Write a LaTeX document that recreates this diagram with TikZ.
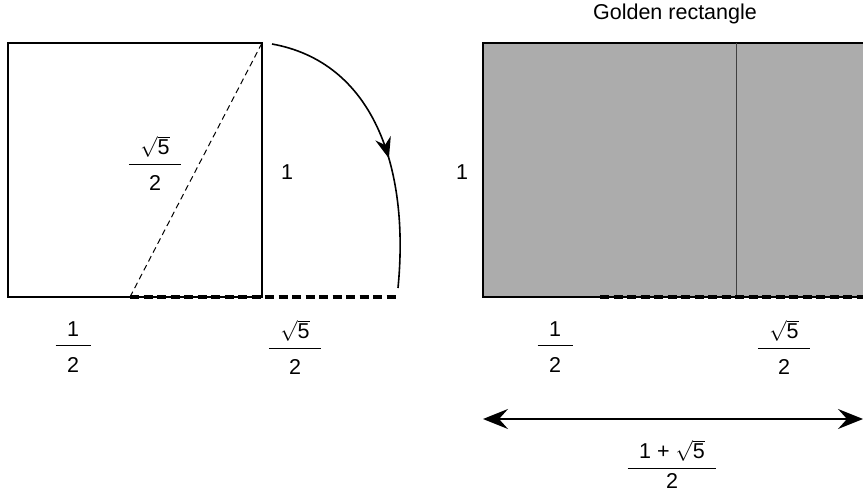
\documentclass[tikz,border=0pt]{standalone}
\usepackage{fontspec}
\setmainfont{Liberation Sans}
\usetikzlibrary{arrows.meta,decorations.markings}
\definecolor{goldgray}{RGB}{172,172,172}
\newcommand{\myfrac}[3][25pt]{$\displaystyle\frac{\mkern10mu #2\mkern10mu}{\vrule height #1 width 0pt\mbox{#3}}$}
\newcommand{\rtfive}{\sqrt{\mbox{5}}}
\tikzset{
  lbl/.style={font=\fontsize{21.5}{26}\selectfont, inner sep=0pt},
  edge/.style={line width=2.2pt},
  thickdash/.style={line width=4pt, dash pattern=on 9pt off 4.5pt},
  thindash/.style={line width=1pt, dash pattern=on 6pt off 4pt},
  arctip/.style={postaction={decorate}, decoration={markings,
     mark=at position 0.57 with {\arrow{Stealth[length=21pt,width=16pt,inset=7pt]}}}},
  dbl/.style={line width=1.8pt, {Stealth[length=25pt,width=20pt,inset=9pt]}-{Stealth[length=25pt,width=20pt,inset=9pt]}}
}
\begin{document}
\begin{tikzpicture}[x=1pt,y=-1pt]
\useasboundingbox (0,0) rectangle (863,492);
% left square
\coordinate (sqTL) at (8,43);
\coordinate (sqTR) at (262,43);
\coordinate (sqBR) at (262,297);
\coordinate (sqBL) at (8,297);
\coordinate (mid) at (130,297);
\coordinate (arcS) at (272,44);
\coordinate (arcE) at (398,288);
\coordinate (dashE) at (400,297);
\draw[edge] (sqTL) -- (sqTR) -- (sqBR) -- (sqBL) -- cycle;
\draw[thindash] (mid) -- (sqTR);
\draw[thickdash] (mid) -- (dashE);
\draw[line width=1.6pt, arctip] (arcS) .. controls (372,62) and (410,165) .. (arcE);
\node[lbl] (diag) at (155,163) {\myfrac{\rtfive}{2}};
\node[lbl] (one1) at (287,172) {1};
\node[lbl] (half1) at (73,347) {\myfrac{\mbox{1}}{2}};
\node[lbl] (root1) at (295,347) {\myfrac{\rtfive}{2}};
% right golden rectangle
\coordinate (grTL) at (483,43);
\coordinate (grBR) at (880,297);
\coordinate (grBL) at (483,297);
\coordinate (vTop) at (736,43);
\coordinate (vBot) at (736,297);
\coordinate (dS) at (600,297);
\coordinate (dE) at (870,297);
\fill[goldgray] (grTL) rectangle (grBR);
\draw[edge] (880,43) -- (grTL) -- (grBL) -- (880,297);
\draw[line width=1pt, black!75] (vTop) -- (vBot);
\draw[thickdash] (dS) -- (dE);
\node[lbl] (title) at (675,14) {Golden rectangle};
\node[lbl] (one2) at (462,172) {1};
\node[lbl] (half2) at (555,347) {\myfrac{\mbox{1}}{2}};
\node[lbl] (root2) at (784,347) {\myfrac{\rtfive}{2}};
\coordinate (aL) at (483,419);
\coordinate (aR) at (863,419);
\draw[dbl] (aL) -- (aR);
\node[lbl] (sum) at (672,464) {\myfrac[19pt]{\mbox{1 + }\rtfive}{2}};
\end{tikzpicture}
\end{document}
